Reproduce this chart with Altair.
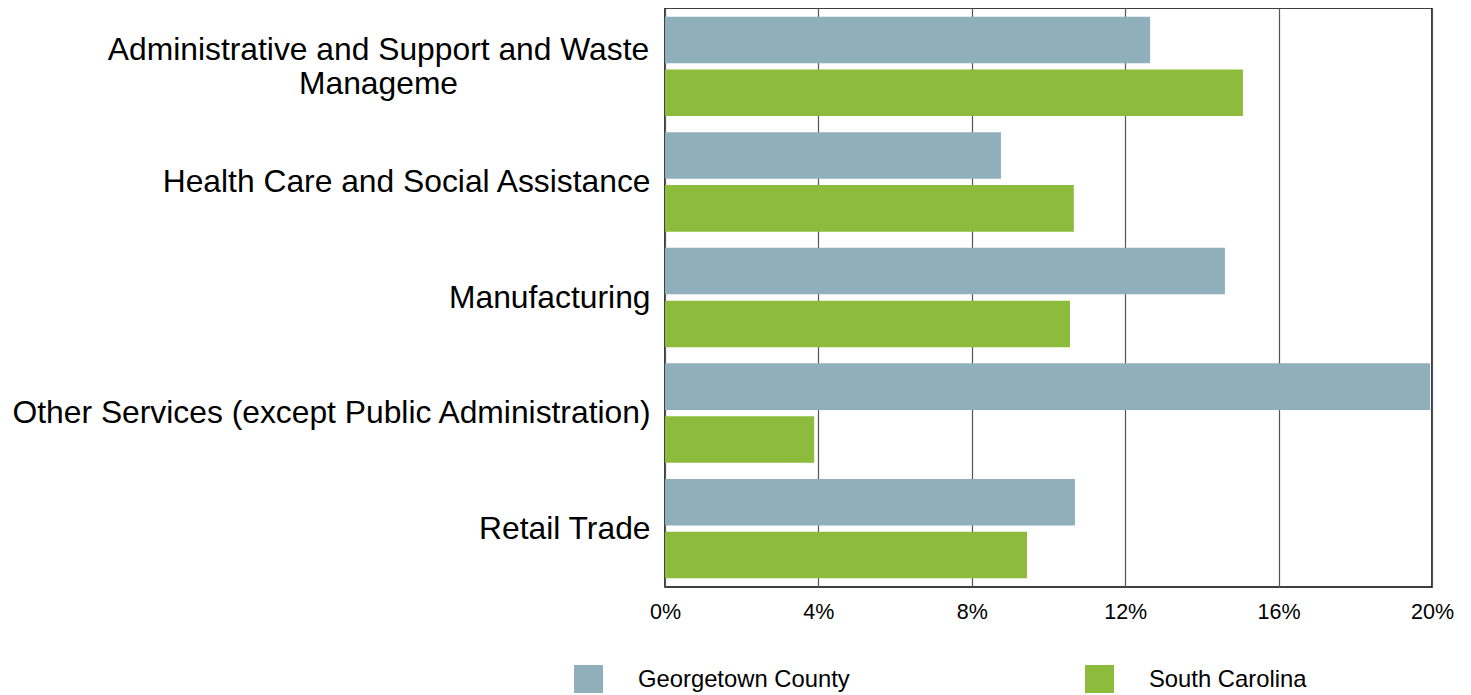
import altair as alt
import pandas as pd

categories = [
    "Administrative and Support and Waste Manageme",
    "Health Care and Social Assistance",
    "Manufacturing",
    "Other Services (except Public Administration)",
    "Retail Trade",
]
special_label = ["Administrative and Support and Waste", "Manageme"]
series = ["Georgetown County", "South Carolina"]
georgetown = [12.65, 8.76, 14.6, 19.95, 10.69]
south_carolina = [15.07, 10.66, 10.56, 3.89, 9.44]
x_ticks = [0, 4, 8, 12, 16, 20]
colors = ["#8FAFBA", "#8DBB3C"]

rows = []
for c, g, s in zip(categories, georgetown, south_carolina):
    rows.append({"category": c, "series": series[0], "value": g})
    rows.append({"category": c, "series": series[1], "value": s})
df = pd.DataFrame(rows)

FONT = "Liberation Sans"

y_enc = alt.Y(
    "category:N",
    sort=categories,
    scale=alt.Scale(paddingInner=0.14, paddingOuter=0.075),
    axis=alt.Axis(
        title=None,
        domain=False,
        ticks=False,
        labelFont=FONT,
        labelFontSize=31.8,
        labelColor="black",
        labelPadding=15,
        labelLimit=1000,
        labelExpr=f"datum.value == '{categories[0]}' ? '' : datum.label",
    ),
)

bars = alt.Chart(df).mark_bar().encode(
    x=alt.X(
        "value:Q",
        scale=alt.Scale(domain=[0, 20], nice=False),
        axis=alt.Axis(
            title=None,
            values=x_ticks,
            domain=False,
            ticks=False,
            grid=True,
            gridColor="#555555",
            gridWidth=1.2,
            labelFont=FONT,
            labelFontSize=21.5,
            labelColor="black",
            labelPadding=14,
            labelFlush=False,
            labelExpr="datum.value + '%'",
        ),
    ),
    y=y_enc,
    yOffset=alt.YOffset("series:N", sort=series, scale=alt.Scale(paddingInner=0.12, paddingOuter=0)),
    color=alt.Color(
        "series:N",
        sort=series,
        scale=alt.Scale(domain=series, range=colors),
        legend=alt.Legend(
            title=None,
            orient="none",
            legendX=-91,
            legendY=657,
            direction="horizontal",
            symbolType="square",
            symbolSize=841,
            symbolStrokeWidth=0,
            symbolOpacity=1,
            labelFont=FONT,
            labelFontSize=23.8,
            labelColor="black",
            labelOffset=35,
            columnPadding=235,
            labelLimit=1000,
        ),
    ),
)

special_df = pd.DataFrame({"category": [categories[0]]})
special_text = alt.Chart(special_df).mark_text(
    text=special_label,
    align="center",
    baseline="middle",
    font=FONT,
    fontSize=31.8,
    lineHeight=34,
    dy=-16,
    color="black",
).encode(
    y=alt.Y("category:N", sort=categories),
    x=alt.value(-286.5),
)

chart = alt.layer(bars, special_text).properties(
    width=767,
    height=579,
    autosize=alt.AutoSizeParams(type="none"),
    padding={"left": 657, "top": 0, "right": 30, "bottom": 106},
).configure_view(
    stroke="black",
    strokeWidth=1.5,
)

chart.save("out.html", embed_options={"renderer": "svg", "actions": False})
